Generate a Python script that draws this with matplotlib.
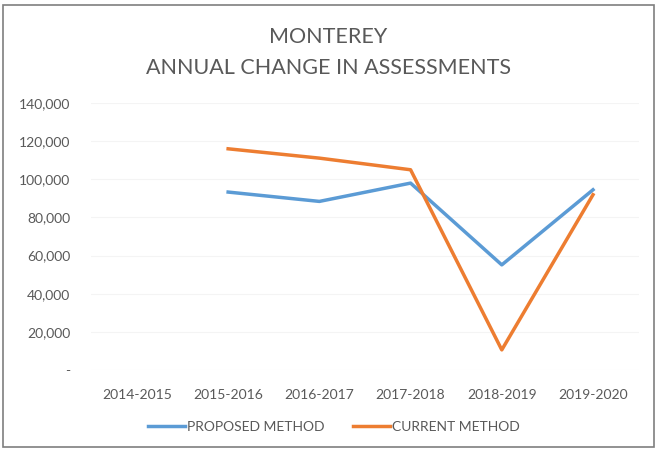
import numpy as np
import matplotlib.pyplot as plt
from matplotlib.patches import Rectangle
from matplotlib.ticker import FuncFormatter

plt.rcParams['font.family'] = ['Lato', 'DejaVu Sans']

# --- data ---
years = ['2014-2015', '2015-2016', '2016-2017', '2017-2018', '2018-2019', '2019-2020']
proposed = [np.nan, 93300, 88400, 98000, 55100, 94500]
current = [np.nan, 116000, 111100, 105000, 10500, 91900]
yticks = [0, 20000, 40000, 60000, 80000, 100000, 120000, 140000]

blue = '#5B9BD5'
orange = '#ED7D31'
grey = '#595959'

fig = plt.figure(figsize=(6.57, 4.5), dpi=100)
ax = fig.add_axes([0.139, 0.178, 0.833, 0.593])

x = np.arange(len(years))
ax.plot(x, proposed, color=blue, lw=2.5, label='PROPOSED METHOD')
ax.plot(x, current, color=orange, lw=2.5, label='CURRENT METHOD')

ax.set_xlim(-0.5, len(years) - 0.5)
ax.set_ylim(0, 140000)
ax.set_xticks(x)
ax.set_xticklabels(years)
ax.set_yticks(yticks)
ax.yaxis.set_major_formatter(FuncFormatter(lambda v, p: '-' if v == 0 else f'{int(v):,}'))
ax.tick_params(length=0, colors=grey, labelsize=10)
ax.tick_params(axis='x', pad=14)
ax.tick_params(axis='y', pad=15)
ax.grid(axis='y', color='#f4f4f4', lw=0.8)
ax.set_axisbelow(True)
for s in ax.spines.values():
    s.set_visible(False)

fig.text(0.5, 0.918, 'MONTEREY', ha='center', va='center', fontsize=15.5, color=grey)
fig.text(0.5, 0.849, 'ANNUAL CHANGE IN ASSESSMENTS', ha='center', va='center', fontsize=15.5, color=grey)

fig.legend(loc='center', bbox_to_anchor=(0.508, 0.052), ncol=2, frameon=False,
           fontsize=10, labelcolor=grey, handlelength=2.7, handletextpad=0.15, columnspacing=2.0)

fig.patches.append(Rectangle((0.004, 0.006), 0.992, 0.982, transform=fig.transFigure,
                             fill=False, edgecolor='#7f7f7f', lw=1.2))

fig.savefig('out.png', dpi=100)
